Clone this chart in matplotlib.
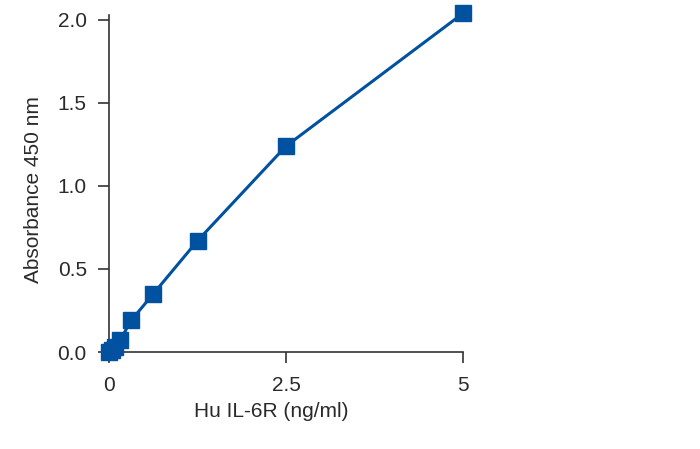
import matplotlib
matplotlib.use("Agg")
import matplotlib.pyplot as plt

# standard curve data
conc = [0, 0.039, 0.078, 0.156, 0.3125, 0.625, 1.25, 2.5, 5]
absorbance = [0.0, 0.01, 0.03, 0.07, 0.19, 0.35, 0.67, 1.24, 2.04]

x_ticks = [0, 2.5, 5]
x_ticklabels = ["0", "2.5", "5"]
y_ticks = [0.0, 0.5, 1.0, 1.5, 2.0]
y_ticklabels = ["0.0", "0.5", "1.0", "1.5", "2.0"]

plt.rcParams["font.family"] = ["Liberation Sans", "DejaVu Sans"]

blue = "#0052a0"
dark = "#333333"

fig = plt.figure(figsize=(7, 4.49), dpi=100)
ax = fig.add_axes([109 / 700, 1 - 352 / 449, 354 / 700, 337 / 449])

ax.plot(conc, absorbance, color=blue, lw=2.2, marker="s", ms=11.5,
        markerfacecolor=blue, markeredgecolor=blue, clip_on=False, zorder=3)

ax.set_xlim(0, 5)
ax.set_ylim(0, 2.03)

ax.set_xticks(x_ticks)
ax.set_xticklabels(x_ticklabels)
ax.set_yticks(y_ticks)
ax.set_yticklabels(y_ticklabels)

for side in ["top", "right"]:
    ax.spines[side].set_visible(False)
for side in ["left", "bottom"]:
    ax.spines[side].set_color(dark)
    ax.spines[side].set_linewidth(1.2)

ax.tick_params(axis="both", direction="out", length=8, width=1.2, color=dark,
               labelsize=15, labelcolor="#2a2a2a")
ax.tick_params(axis="x", pad=9)
ax.tick_params(axis="y", pad=8)

ax.set_xlabel("Hu IL-6R (ng/ml)", fontsize=15, color="#2a2a2a")
ax.set_ylabel("Absorbance 450 nm", fontsize=15, color="#2a2a2a")
# xlabel anchored at its top, ylabel at its right edge
ax.xaxis.set_label_coords((271 - 109) / 354, -(402 - 352) / 337)
ax.yaxis.set_label_coords(-(109 - 43) / 354, (352 - 190) / 337)

fig.savefig("out.png", dpi=100)
